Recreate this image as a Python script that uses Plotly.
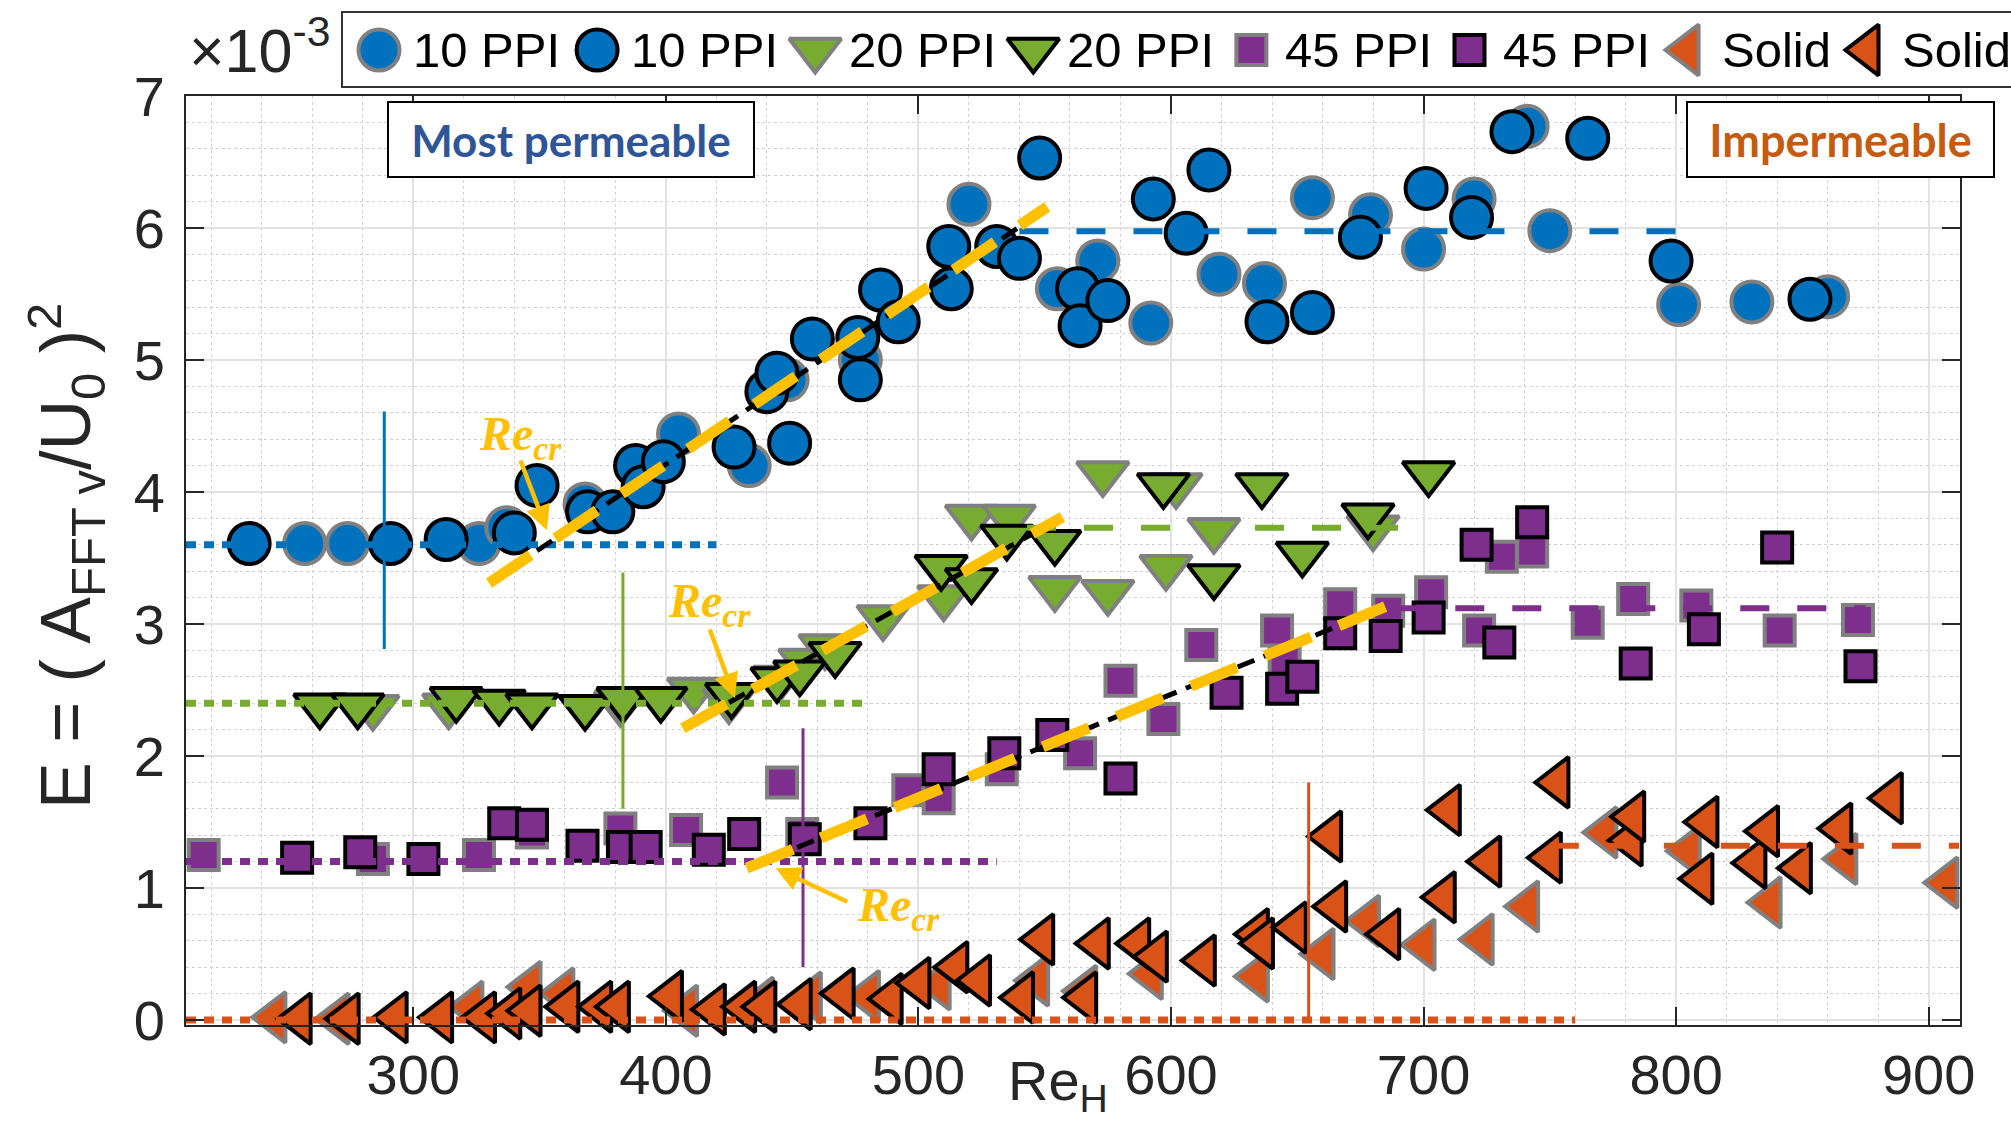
import plotly.graph_objects as go

# ---------------- data ----------------
blue_gray_x = [257, 274, 326, 337, 368, 405, 433, 448, 477, 520, 555, 571, 592, 619, 637, 656, 679, 700, 720, 741, 750, 801, 830, 860]
blue_gray_y = [3.61, 3.61, 3.61, 3.73, 3.91, 4.44, 4.20, 4.85, 5.00, 6.18, 5.54, 5.75, 5.28, 5.65, 5.58, 6.23, 6.10, 5.84, 6.22, 6.77, 5.98, 5.42, 5.44, 5.48]

blue_black_x = [235, 291, 313, 340, 349, 369, 379, 388, 391, 399, 427, 440, 444, 449, 458, 476, 477, 485, 492, 512, 513, 531, 540, 548, 563, 564, 575, 593, 606, 615, 638, 656, 675, 701, 719, 735, 765, 798, 853]
blue_black_y = [3.61, 3.61, 3.64, 3.69, 4.05, 3.85, 3.85, 4.20, 4.04, 4.23, 4.34, 4.76, 4.90, 4.37, 5.16, 5.17, 4.85, 5.53, 5.29, 5.86, 5.54, 5.86, 5.77, 6.53, 5.54, 5.26, 5.45, 6.22, 5.96, 6.44, 5.29, 5.36, 5.93, 6.30, 6.08, 6.73, 6.68, 5.75, 5.46]

green_gray_x = [284, 314, 382, 411, 425, 445, 455, 463, 486, 510, 521, 536, 554, 573, 575, 598, 602, 617, 680]
green_gray_y = [2.37, 2.38, 2.40, 2.50, 2.42, 2.59, 2.72, 2.83, 3.05, 3.20, 3.81, 3.81, 3.27, 4.14, 3.24, 3.43, 4.05, 3.71, 3.73]

green_black_x = [263, 278, 317, 334, 347, 368, 383, 398, 426, 444, 453, 467, 509, 521, 535, 554, 597, 617, 636, 652, 678, 702]
green_black_y = [2.38, 2.38, 2.43, 2.41, 2.38, 2.37, 2.43, 2.43, 2.46, 2.58, 2.63, 2.77, 3.43, 3.33, 3.66, 3.62, 4.05, 3.36, 4.05, 3.53, 3.82, 4.14]

purple_gray_x = [217, 284, 326, 347, 382, 408, 446, 454, 496, 508, 533, 564, 580, 597, 612, 642, 645, 667, 686, 703, 722, 731, 743, 765, 783, 808, 841, 872]
purple_gray_y = [1.25, 1.22, 1.25, 1.42, 1.45, 1.44, 1.80, 1.41, 1.74, 1.68, 1.90, 2.02, 2.57, 2.28, 2.84, 2.95, 2.72, 3.15, 3.10, 3.24, 2.95, 3.51, 3.55, 3.01, 3.19, 3.14, 2.95, 3.03]

purple_black_x = [254, 279, 304, 336, 347, 367, 383, 392, 417, 431, 455, 481, 508, 534, 553, 580, 622, 644, 652, 667, 685, 702, 721, 730, 743, 784, 811, 840, 873]
purple_black_y = [1.23, 1.27, 1.22, 1.49, 1.48, 1.32, 1.31, 1.31, 1.29, 1.41, 1.37, 1.49, 1.90, 2.02, 2.16, 1.83, 2.48, 2.51, 2.60, 2.93, 2.91, 3.05, 3.60, 2.86, 3.77, 2.70, 2.96, 3.58, 2.68]

orange_gray_x = [245, 270, 323, 346, 359, 408, 438, 457, 480, 508, 547, 566, 592, 634, 660, 678, 700, 723, 741, 772, 805, 837, 867, 907]
orange_gray_y = [0.02, 0.01, 0.10, 0.25, 0.20, 0.07, 0.13, 0.17, 0.18, 0.27, 0.30, 0.22, 0.35, 0.33, 0.50, 0.75, 0.57, 0.61, 0.86, 1.42, 1.28, 0.89, 1.22, 1.04]

orange_black_x = [255, 274, 293, 311, 328, 338, 346, 361, 374, 381, 402, 419, 431, 439, 453, 470, 489, 500, 515, 524, 541, 549, 566, 571, 587, 594, 613, 634, 636, 649, 663, 665, 686, 708, 710, 726, 750, 753, 782, 783, 810, 812, 831, 836, 849, 865, 885]
orange_black_y = [0.01, 0.01, 0.02, 0.02, 0.02, 0.05, 0.07, 0.10, 0.10, 0.10, 0.18, 0.08, 0.10, 0.10, 0.12, 0.20, 0.16, 0.28, 0.40, 0.30, 0.17, 0.61, 0.17, 0.58, 0.58, 0.48, 0.45, 0.65, 0.58, 0.70, 1.39, 0.86, 0.65, 0.93, 1.59, 1.20, 1.23, 1.80, 1.36, 1.54, 1.07, 1.50, 1.19, 1.43, 1.15, 1.45, 1.68]

legend_names = ["10 PPI", "10 PPI", "20 PPI", "20 PPI", "45 PPI", "45 PPI", "Solid", "Solid"]

# reference levels / guide lines (data units)
plateau_y = [3.60, 2.40, 1.20, 0.00]          # dotted low-Re levels
plateau_x_end = [420, 479, 531, 760]
high_y = [5.975, 3.73, 3.12, 1.32]            # dashed high-Re levels
high_x = [[540, 800], [543, 700], [690, 875], [750, 912]]
vline_x = [288.5, 383, 454.3, 654.5]
vline_y = [[2.81, 4.61], [1.60, 3.39], [0.40, 2.21], [0.00, 1.80]]
fit_yellow_x = [[330, 551], [406.7, 557], [432, 691]]
fit_yellow_y = [[3.31, 6.16], [2.21, 3.81], [1.15, 3.18]]
fit_black_x = [[349, 551], [425, 548], [452, 685]]
fit_black_y = [[3.555, 6.15], [2.405, 3.714], [1.307, 3.133]]
recr_text_xy = [(342.6, 4.42), (417.4, 3.15), (492.2, 0.845)]
recr_tail_xy = [(342.2, 4.25), (417.2, 2.97), (472.4, 0.89)]
recr_head_xy = [(352.9, 3.71), (427.3, 2.44), (443.5, 1.15)]

# ---------------- styles ----------------
W, H = 2011, 1126
BLUE, GREEN, PURPLE, ORANGE = "#0072BD", "#77AC30", "#7E2F8E", "#D95319"
GRAY, BLACK = "#808080", "#000000"
YELLOW = "#FFC000"
colors4 = [BLUE, GREEN, PURPLE, ORANGE]

series = [
    (blue_gray_x, blue_gray_y, "circle", BLUE, GRAY, 41),
    (blue_black_x, blue_black_y, "circle", BLUE, BLACK, 41),
    (green_gray_x, green_gray_y, "triangle-down", GREEN, GRAY, 45),
    (green_black_x, green_black_y, "triangle-down", GREEN, BLACK, 45),
    (purple_gray_x, purple_gray_y, "square", PURPLE, GRAY, 30),
    (purple_black_x, purple_black_y, "square", PURPLE, BLACK, 30),
    (orange_gray_x, orange_gray_y, "triangle-left", ORANGE, GRAY, 44),
    (orange_black_x, orange_black_y, "triangle-left", ORANGE, BLACK, 44),
]
EDGE_W = 4

fig = go.Figure()

for (xs, ys, sym, col, edge, sz), name in zip(series, legend_names):
    fig.add_trace(go.Scatter(
        x=xs, y=ys, mode="markers", name=name, cliponaxis=False,
        marker=dict(symbol=sym, size=sz, color=col, line=dict(color=edge, width=EDGE_W)),
        xaxis="x", yaxis="y", hoverinfo="skip"))

X_MIN, X_MAX = 210, 912.4
Y_MIN, Y_MAX = -0.035, 7   # tiny pad below 0 so the y=0 dotted line is not half-clipped

# dotted plateau lines
for c, yv, xe in zip(colors4, plateau_y, plateau_x_end):
    fig.add_trace(go.Scatter(x=[X_MIN, xe], y=[yv, yv], mode="lines",
                             line=dict(color=c, width=7, dash="10px,8px"), hoverinfo="skip"))
# dashed high-Re lines
for c, yv, xr in zip(colors4, high_y, high_x):
    fig.add_trace(go.Scatter(x=xr, y=[yv, yv], mode="lines",
                             line=dict(color=c, width=6, dash="29px,28px"), hoverinfo="skip"))
# vertical lines
for c, xv, yr in zip(colors4, vline_x, vline_y):
    fig.add_trace(go.Scatter(x=[xv, xv], y=yr, mode="lines",
                             line=dict(color=c, width=3), hoverinfo="skip"))
# fit lines (black under yellow)
for bx, by in zip(fit_black_x, fit_black_y):
    fig.add_trace(go.Scatter(x=bx, y=by, mode="lines",
                             line=dict(color=BLACK, width=5, dash="18px,10px"), hoverinfo="skip"))
for yx, yy in zip(fit_yellow_x, fit_yellow_y):
    fig.add_trace(go.Scatter(x=yx, y=yy, mode="lines",
                             line=dict(color=YELLOW, width=11, dash="50px,30px"), hoverinfo="skip"))

# ---------------- custom legend (pixel overlay axes) ----------------
char_w = {'1': .556, '0': .556, '2': .556, '4': .556, '5': .556, ' ': .278, 'P': .667,
          'I': .278, 'S': .667, 'o': .556, 'l': .222, 'i': .222, 'd': .556}
LEG_FONT = 49
LEG_Y = 50
cursor = 379
leg_mx, leg_tx = [], []
for name in legend_names:
    leg_mx.append(cursor)
    leg_tx.append(cursor + 32)
    cursor = cursor + 32 + sum(char_w.get(ch, .556) for ch in name) * LEG_FONT + 39

for (xs, ys, sym, col, edge, sz), mx in zip(series, leg_mx):
    fig.add_trace(go.Scatter(
        x=[mx], y=[LEG_Y], mode="markers", xaxis="x2", yaxis="y2", cliponaxis=False,
        marker=dict(symbol=sym, size=sz, color=col, line=dict(color=edge, width=EDGE_W)),
        hoverinfo="skip"))

annotations = []
for name, tx in zip(legend_names, leg_tx):
    annotations.append(dict(xref="paper", yref="paper", x=tx / W, y=1 - LEG_Y / H,
                            xanchor="left", yanchor="middle", showarrow=False, text=name,
                            font=dict(family="Liberation Sans", size=LEG_FONT, color="#000000")))

shapes = [dict(type="rect", xref="paper", yref="paper", x0=342 / W, x1=1.02,
               y0=1 - 87 / H, y1=1 - 12 / H, line=dict(color="#333333", width=2),
               fillcolor="rgba(0,0,0,0)", layer="above")]

# Re_cr labels and arrows
for (tx, ty), (ax_, ay_), (hx, hy) in zip(recr_text_xy, recr_tail_xy, recr_head_xy):
    annotations.append(dict(xref="x", yref="y", x=tx, y=ty, showarrow=False,
                            text="<b><i>Re<sub>cr</sub></i></b>",
                            font=dict(family="Liberation Serif", size=48, color=YELLOW)))
    annotations.append(dict(xref="x", yref="y", x=hx, y=hy, axref="x", ayref="y",
                            ax=ax_, ay=ay_, text="", showarrow=True, arrowhead=2,
                            arrowsize=1.1, arrowwidth=4.5, arrowcolor=YELLOW,
                            standoff=0, startstandoff=0))

# boxed labels
annotations.append(dict(xref="paper", yref="paper", x=571 / W, y=1 - 140 / H,
                        xanchor="center", yanchor="middle", showarrow=False,
                        text="<b>Most permeable</b>", width=362, height=71,
                        bgcolor="white", bordercolor="black", borderwidth=2, borderpad=1,
                        font=dict(family="Lato", size=44, color="#2F5597")))
annotations.append(dict(xref="paper", yref="paper", x=1840 / W, y=1 - 140 / H,
                        xanchor="center", yanchor="middle", showarrow=False,
                        text="<b>Impermeable</b>", width=303, height=71,
                        bgcolor="white", bordercolor="black", borderwidth=2, borderpad=1,
                        font=dict(family="Lato", size=45, color="#C55A11")))

# exponent, axis labels
annotations.append(dict(xref="paper", yref="paper", x=187 / W, y=1 - 46 / H,
                        xanchor="left", yanchor="middle", showarrow=False,
                        text="×10<sup>-3</sup>",
                        font=dict(family="Liberation Sans", size=61, color="#262626")))
annotations.append(dict(xref="paper", yref="paper", x=66 / W, y=1 - 556 / H,
                        xanchor="center", yanchor="middle", showarrow=False, textangle=-90,
                        text="E = ( A<sub>FFT v</sub>/U<sub>0</sub> )<sup>2</sup>",
                        font=dict(family="Liberation Sans", size=70, color="#262626")))
annotations.append(dict(xref="paper", yref="paper", x=1006 / W, y=1 - 1084 / H,
                        xanchor="left", yanchor="middle", showarrow=False,
                        text="Re<sub>H</sub>",
                        font=dict(family="Liberation Sans", size=56, color="#262626")))

tickfont = dict(family="Liberation Sans", size=56, color="#262626")
common = dict(ticks="inside", ticklen=18, tickwidth=1.5, tickcolor="#262626",
              showline=True, linecolor="#262626", linewidth=2, mirror="ticks",
              showgrid=True, gridcolor="#e2e2e2", gridwidth=1.5, zeroline=False,
              tickfont=tickfont, automargin=False)

PLOT_TOP, PLOT_ZERO = 96, 1020
plot_bottom = PLOT_ZERO + (0 - Y_MIN) * (PLOT_ZERO - PLOT_TOP) / Y_MAX

fig.update_layout(
    template="none",
    width=W, height=H, autosize=False,
    margin=dict(l=0, r=0, t=0, b=0, pad=0, autoexpand=False),
    paper_bgcolor="white", plot_bgcolor="rgba(0,0,0,0)", showlegend=False,
    xaxis=dict(domain=[186 / W, 1960 / W], range=[X_MIN, X_MAX], tickmode="linear",
               tick0=0, dtick=100, ticklabelstandoff=0,
               minor=dict(dtick=20, showgrid=True, gridcolor="#d2d2d2", griddash="dot", gridwidth=1),
               **common),
    yaxis=dict(domain=[1 - plot_bottom / H, 1 - PLOT_TOP / H], range=[Y_MIN, Y_MAX],
               tickmode="linear", tick0=0, dtick=1, ticklabelstandoff=8,
               minor=dict(dtick=0.2, showgrid=True, gridcolor="#d2d2d2", griddash="dot", gridwidth=1),
               **common),
    xaxis2=dict(domain=[0, 1], range=[0, W], visible=False, anchor="y2", fixedrange=True,
                automargin=False),
    yaxis2=dict(domain=[0, 1], range=[H, 0], visible=False, anchor="x2", fixedrange=True,
                automargin=False),
    annotations=annotations, shapes=shapes,
)

fig.write_html("out.html", config={"responsive": False, "displayModeBar": False},
               post_script="document.body.style.margin='0px';document.body.style.overflow='hidden';")
